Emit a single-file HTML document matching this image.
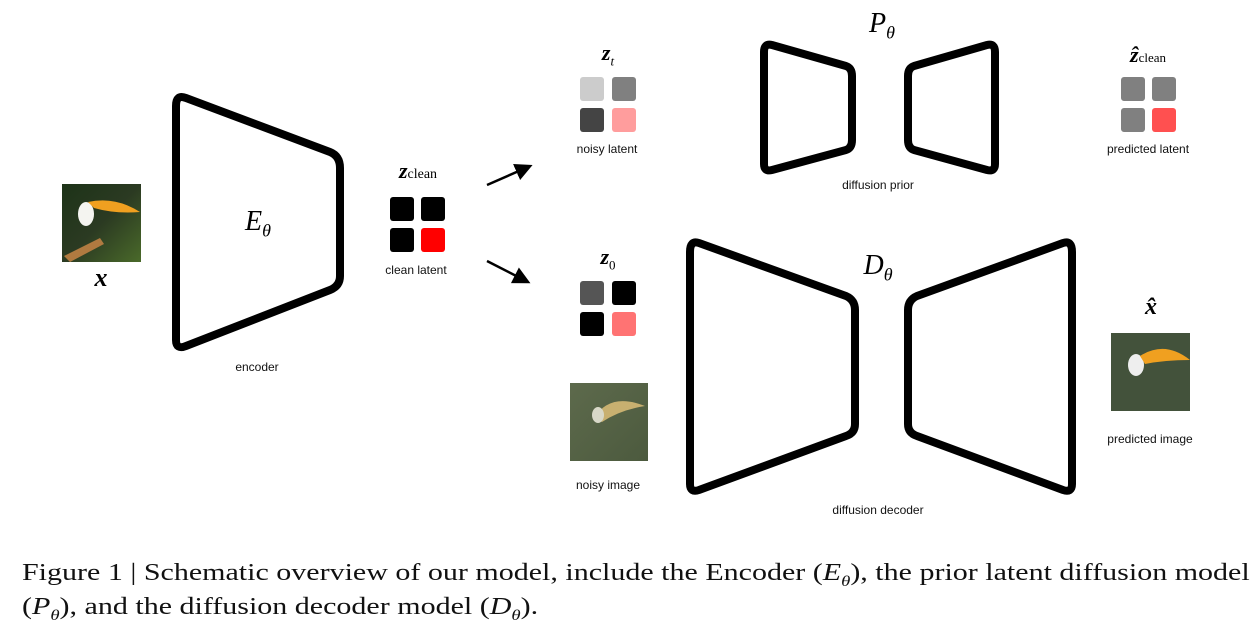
<!DOCTYPE html>
<html><head><meta charset="utf-8"><style>
body{margin:0;background:#fff;width:1259px;height:642px;overflow:hidden;position:relative;font-family:"Liberation Sans",sans-serif}
.t{position:absolute;font-size:12px;color:#111;white-space:nowrap;transform:translateX(-50%)}
.m{position:absolute;font-family:"Liberation Serif",serif;font-style:italic;color:#000;transform:translateX(-50%);white-space:nowrap}
.cap{position:absolute;left:22px;font-family:"Liberation Serif",serif;font-size:24px;color:#111;white-space:nowrap;transform:scaleX(1.25);transform-origin:0 0}
</style></head><body>
<svg width="1259" height="642" style="position:absolute;left:0;top:0">
<defs>
<linearGradient id="tou" x1="0" y1="0" x2="1" y2="1"><stop offset="0" stop-color="#1d3318"/><stop offset=".5" stop-color="#2b3a22"/><stop offset="1" stop-color="#4a6a2a"/></linearGradient>
<linearGradient id="noi" x1="0" y1="0" x2="1" y2="1"><stop offset="0" stop-color="#5d6a4c"/><stop offset="1" stop-color="#4c5a3e"/></linearGradient>
<marker id="ah" markerWidth="7" markerHeight="7" refX="5" refY="3.5" orient="auto"><path d="M0,0 L7,3.5 L0,7 z" fill="#000"/></marker>
</defs>
<g fill="none" stroke="#000" stroke-width="8" stroke-linejoin="round">
<path d="M186,98 L330,152 Q340,156 340,168 L340,276 Q340,286 330,290 L186,346 Q176,350 176,340 L176,106 Q176,94 186,98 Z"/>
<path d="M772,45 L846,66 Q852,68 852,76 L852,140 Q852,148 846,150 L772,170 Q764,172 764,164 L764,52 Q764,43 772,45 Z"/>
<path d="M987,45 L914,66 Q908,68 908,76 L908,140 Q908,148 914,150 L987,170 Q995,172 995,164 L995,52 Q995,43 987,45 Z"/>
<path d="M699,243 L846,296 Q855,300 855,310 L855,424 Q855,433 846,436 L699,490 Q690,493 690,484 L690,252 Q690,240 699,243 Z"/>
<path d="M1063,243 L917,296 Q908,300 908,310 L908,424 Q908,433 917,436 L1063,490 Q1072,493 1072,484 L1072,252 Q1072,240 1063,243 Z"/>
</g>
<g stroke="#000" stroke-width="2.5"><line x1="487" y1="185" x2="528" y2="167" marker-end="url(#ah)"/><line x1="487" y1="261" x2="526" y2="281" marker-end="url(#ah)"/></g>
<g>
<rect x="390" y="197" width="24" height="24" rx="3" fill="#000"/><rect x="421" y="197" width="24" height="24" rx="3" fill="#000"/>
<rect x="390" y="228" width="24" height="24" rx="3" fill="#000"/><rect x="421" y="228" width="24" height="24" rx="3" fill="#f00"/>
<rect x="580" y="77" width="24" height="24" rx="3" fill="#ccc"/><rect x="612" y="77" width="24" height="24" rx="3" fill="#808080"/>
<rect x="580" y="108" width="24" height="24" rx="3" fill="#444"/><rect x="612" y="108" width="24" height="24" rx="3" fill="#ff9d9d"/>
<rect x="580" y="281" width="24" height="24" rx="3" fill="#555"/><rect x="612" y="281" width="24" height="24" rx="3" fill="#000"/>
<rect x="580" y="312" width="24" height="24" rx="3" fill="#000"/><rect x="612" y="312" width="24" height="24" rx="3" fill="#ff7373"/>
<rect x="1121" y="77" width="24" height="24" rx="3" fill="#808080"/><rect x="1152" y="77" width="24" height="24" rx="3" fill="#808080"/>
<rect x="1121" y="108" width="24" height="24" rx="3" fill="#808080"/><rect x="1152" y="108" width="24" height="24" rx="3" fill="#ff5050"/>
</g>
<rect x="62" y="184" width="79" height="78" fill="url(#tou)"/>
<ellipse cx="86" cy="214" rx="8" ry="12" fill="#f4f4f0"/><path d="M88,202 Q115,196 140,212 Q115,214 94,208 Z" fill="#f0a020"/>
<path d="M64,256 L100,238 L104,244 L70,262 Z" fill="#b07a40"/>
<rect x="570" y="383" width="78" height="78" fill="url(#noi)"/>
<path d="M594,418 Q610,392 645,406 Q620,410 602,422 Z" fill="#c8b070"/><ellipse cx="598" cy="415" rx="6" ry="8" fill="#d8d8c8"/>
<rect x="1111" y="333" width="79" height="78" fill="#2f3f26" opacity=".9"/>
<ellipse cx="1136" cy="365" rx="8" ry="11" fill="#eee"/><path d="M1140,356 Q1165,340 1190,360 Q1165,360 1145,364 Z" fill="#f0a020"/>
</svg>
<div class="m" style="left:101px;top:263px;font-size:26px;font-weight:bold">x</div>
<div class="m" style="left:258px;top:206px;font-size:28px">E<sub style="font-size:18px">θ</sub></div>
<div class="m" style="left:418px;top:158px;font-size:22px;font-weight:bold">z<span style="font-style:normal;font-weight:normal;font-size:14px">clean</span></div>
<div class="m" style="left:608px;top:40px;font-size:22px;font-weight:bold">z<sub style="font-size:13px;font-weight:normal">t</sub></div>
<div class="m" style="left:882px;top:8px;font-size:28px">P<sub style="font-size:18px">θ</sub></div>
<div class="m" style="left:1148px;top:42px;font-size:22px;font-weight:bold">ẑ<span style="font-style:normal;font-weight:normal;font-size:13px">clean</span></div>
<div class="m" style="left:608px;top:244px;font-size:22px;font-weight:bold">z<sub style="font-size:13px;font-weight:normal;font-style:normal">0</sub></div>
<div class="m" style="left:878px;top:250px;font-size:28px">D<sub style="font-size:18px">θ</sub></div>
<div class="m" style="left:1151px;top:294px;font-size:24px;font-weight:bold">x̂</div>
<div class="t" style="left:257px;top:360px">encoder</div>
<div class="t" style="left:416px;top:263px">clean latent</div>
<div class="t" style="left:607px;top:142px">noisy latent</div>
<div class="t" style="left:878px;top:178px">diffusion prior</div>
<div class="t" style="left:1148px;top:142px">predicted latent</div>
<div class="t" style="left:608px;top:478px">noisy image</div>
<div class="t" style="left:878px;top:503px">diffusion decoder</div>
<div class="t" style="left:1150px;top:432px">predicted image</div>
<div class="cap" style="top:560px">Figure 1 | Schematic overview of our model, include the Encoder (<i>E<sub style="font-size:15px">θ</sub></i>), the prior latent diffusion model</div>
<div class="cap" style="top:594px">(<i>P<sub style="font-size:15px">θ</sub></i>), and the diffusion decoder model (<i>D<sub style="font-size:15px">θ</sub></i>).</div>
</body></html>
